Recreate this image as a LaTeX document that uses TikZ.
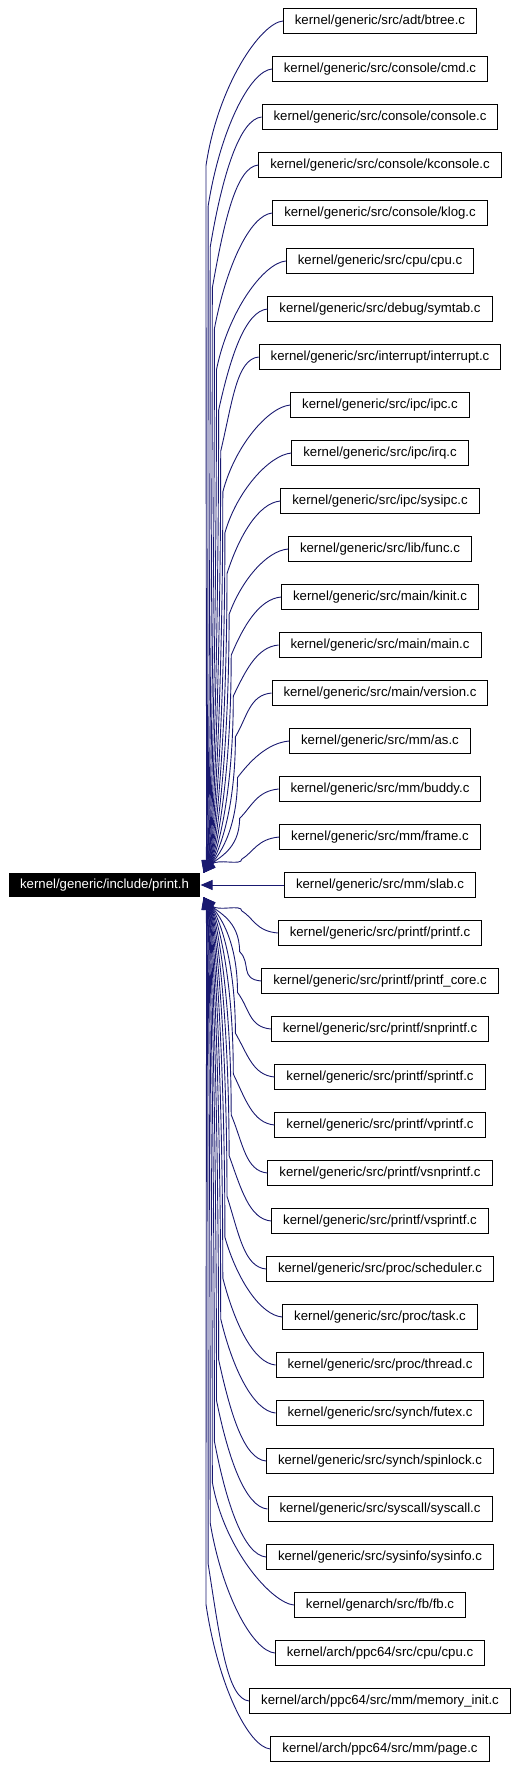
\documentclass[tikz,border=0pt]{standalone}
\usepackage{fontspec}
\setmainfont{Liberation Sans}
\usetikzlibrary{arrows.meta,calc}
\definecolor{edgec}{HTML}{191970}
\begin{document}
\begin{tikzpicture}[x=1pt,y=-1pt,
  box/.style={draw=black,line width=1pt,fill=white,inner xsep=11.5pt,inner ysep=0pt,minimum height=25pt,font=\fontsize{13.2pt}{15pt}\selectfont},
  mainbox/.style={fill=black,text=white,inner xsep=11.5pt,inner ysep=0pt,minimum height=24pt,font=\fontsize{13.2pt}{15pt}\selectfont},
  edge/.style={draw=edgec,line width=0.9pt,-{Triangle[length=12pt,width=10pt]}}]
\useasboundingbox (0,0) rectangle (519,1767);
\node[mainbox] (main) at (104.5,885) {kernel/generic/include/print.h};
\foreach \t [count=\i from 0] in {
kernel/generic/src/adt/btree.c,
kernel/generic/src/console/cmd.c,
kernel/generic/src/console/console.c,
kernel/generic/src/console/kconsole.c,
kernel/generic/src/console/klog.c,
kernel/generic/src/cpu/cpu.c,
kernel/generic/src/debug/symtab.c,
kernel/generic/src/interrupt/interrupt.c,
kernel/generic/src/ipc/ipc.c,
kernel/generic/src/ipc/irq.c,
kernel/generic/src/ipc/sysipc.c,
kernel/generic/src/lib/func.c,
kernel/generic/src/main/kinit.c,
kernel/generic/src/main/main.c,
kernel/generic/src/main/version.c,
kernel/generic/src/mm/as.c,
kernel/generic/src/mm/buddy.c,
kernel/generic/src/mm/frame.c,
kernel/generic/src/mm/slab.c,
kernel/generic/src/printf/printf.c,
kernel/generic/src/printf/printf\_core.c,
kernel/generic/src/printf/snprintf.c,
kernel/generic/src/printf/sprintf.c,
kernel/generic/src/printf/vprintf.c,
kernel/generic/src/printf/vsnprintf.c,
kernel/generic/src/printf/vsprintf.c,
kernel/generic/src/proc/scheduler.c,
kernel/generic/src/proc/task.c,
kernel/generic/src/proc/thread.c,
kernel/generic/src/synch/futex.c,
kernel/generic/src/synch/spinlock.c,
kernel/generic/src/syscall/syscall.c,
kernel/generic/src/sysinfo/sysinfo.c,
kernel/genarch/src/fb/fb.c,
kernel/arch/ppc64/src/cpu/cpu.c,
kernel/arch/ppc64/src/mm/memory\_init.c,
kernel/arch/ppc64/src/mm/page.c}{
  \node[box] (n\i) at (380,21+48*\i) {\t};
}
\coordinate (tu) at ($(main.north east)+(3,0)$);
\coordinate (tl) at ($(main.south east)+(3,0)$);
% upper edges
\foreach \i in {0,...,17}{
  \pgfmathsetmacro\yi{21+48*\i}
  \pgfmathsetmacro\dd{885-\yi}
  \pgfmathsetmacro\X{206+2.1*\i}
  \pgfmathsetmacro\Ky{\yi+0.15*\dd+15}
  \pgfmathsetmacro\Cy{\yi+0.06*\dd+12}
  \pgfmathsetmacro\Dy{\Ky+0.6*(871-\Ky)}
  \pgfmathsetmacro\Ex{207+0.3*(\X-206)}
  \draw[edge] (n\i.west) .. controls ($(n\i.west)+(-22,2)$) and (\X+12,\Cy) .. (\X,\Ky) .. controls (\X,\Dy) and (\Ex,858) .. (tu);
}
% middle edge
\draw[edge] (n18.west) -- (main.east);
% lower edges
\foreach \i in {19,...,36}{
  \pgfmathsetmacro\m{36-\i}
  \pgfmathsetmacro\yi{21+48*\i}
  \pgfmathsetmacro\dd{\yi-885}
  \pgfmathsetmacro\X{206+2.1*\m}
  \pgfmathsetmacro\Ky{\yi-0.15*\dd-15}
  \pgfmathsetmacro\Cy{\yi-0.06*\dd-12}
  \pgfmathsetmacro\Dy{\Ky-0.6*(\Ky-899)}
  \pgfmathsetmacro\Ex{207+0.3*(\X-206)}
  \draw[edge] (n\i.west) .. controls ($(n\i.west)+(-22,-2)$) and (\X+12,\Cy) .. (\X,\Ky) .. controls (\X,\Dy) and (\Ex,912) .. (tl);
}
\end{tikzpicture}
\end{document}
